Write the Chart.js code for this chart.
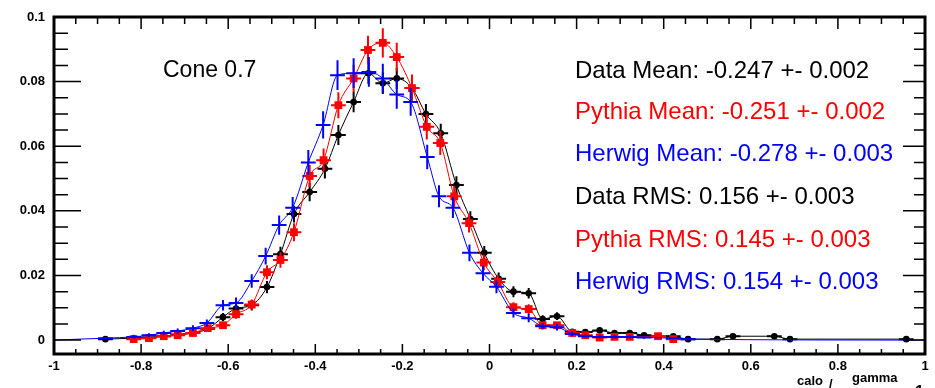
<!DOCTYPE html>
<html lang="en">
<head>
<meta charset="UTF-8">
<title>Cone 0.7</title>
<script src="https://cdn.jsdelivr.net/npm/chart.js"></script>
<style>
  html, body { margin: 0; padding: 0; background: #fff; }
</style>
</head>
<body>
<canvas id="coneChart" width="935" height="388"></canvas>
<script>
// x_calo / x_gamma - 1, cone 0.7
const binHalf = 0.017;

const dataX = [-0.882, -0.817, -0.782, -0.748, -0.716, -0.681, -0.647, -0.612, -0.582, -0.546,
  -0.511, -0.480, -0.449, -0.413, -0.378, -0.347, -0.312, -0.278, -0.245, -0.213,
  -0.178, -0.146, -0.112, -0.076, -0.044, -0.012, 0.021, 0.055, 0.090, 0.122,
  0.155, 0.190, 0.220, 0.253, 0.287, 0.322, 0.355, 0.422, 0.456, 0.523,
  0.559, 0.654, 0.690, 0.957];
const dataY = [0.0003, 0.0006, 0.0008, 0.0012, 0.0017, 0.0022, 0.0035, 0.0071, 0.0098, 0.0108,
  0.0164, 0.0266, 0.0390, 0.0458, 0.0530, 0.0635, 0.0737, 0.0826, 0.0795, 0.0810,
  0.0780, 0.0700, 0.0640, 0.0480, 0.0375, 0.0270, 0.0190, 0.0150, 0.0145, 0.0065,
  0.0074, 0.0026, 0.0025, 0.0030, 0.0022, 0.0022, 0.0015, 0.0012, 0.0003, 0.0003,
  0.0012, 0.0012, 0.0003, 0.0003];
const dataErr = [0.0004, 0.0005, 0.0005, 0.0006, 0.0007, 0.0008, 0.0010, 0.0013, 0.0015, 0.0016,
  0.0019, 0.0023, 0.0026, 0.0028, 0.0030, 0.0031, 0.0032, 0.0033, 0.0033, 0.0033,
  0.0032, 0.0031, 0.0030, 0.0027, 0.0024, 0.0021, 0.0019, 0.0017, 0.0016, 0.0012,
  0.0012, 0.0008, 0.0008, 0.0008, 0.0007, 0.0007, 0.0006, 0.0005, 0.0004, 0.0004,
  0.0005, 0.0005, 0.0004, 0.0004];

const pythiaX = [-0.817, -0.782, -0.748, -0.716, -0.681, -0.647, -0.612, -0.582, -0.546, -0.511,
  -0.480, -0.449, -0.413, -0.381, -0.347, -0.312, -0.279, -0.245, -0.213, -0.178,
  -0.144, -0.113, -0.081, -0.047, -0.013, 0.019, 0.055, 0.090, 0.122, 0.155,
  0.190, 0.220, 0.253, 0.287, 0.322, 0.387, 0.422];
const pythiaY = [0.0003, 0.0006, 0.0012, 0.0015, 0.0022, 0.0037, 0.0046, 0.0080, 0.0110, 0.0210,
  0.0248, 0.0334, 0.0508, 0.0557, 0.0727, 0.0810, 0.0898, 0.0920, 0.0876, 0.0780,
  0.0660, 0.0610, 0.0445, 0.0362, 0.0240, 0.0180, 0.0102, 0.0096, 0.0046, 0.0046,
  0.0022, 0.0015, 0.0008, 0.0010, 0.0010, 0.0012, 0.0003];
const pythiaErr = [0.0003, 0.0004, 0.0005, 0.0006, 0.0007, 0.0009, 0.0010, 0.0014, 0.0016, 0.0022,
  0.0024, 0.0028, 0.0034, 0.0036, 0.0040, 0.0042, 0.0044, 0.0045, 0.0044, 0.0042,
  0.0039, 0.0037, 0.0032, 0.0029, 0.0024, 0.0020, 0.0015, 0.0015, 0.0010, 0.0010,
  0.0007, 0.0006, 0.0005, 0.0005, 0.0005, 0.0005, 0.0003];

const herwigX = [-1, -0.882, -0.817, -0.782, -0.748, -0.716, -0.681, -0.649, -0.612, -0.582, -0.546,
  -0.514, -0.483, -0.452, -0.416, -0.382, -0.349, -0.312, -0.277, -0.245, -0.213,
  -0.181, -0.143, -0.116, -0.084, -0.046, -0.015, 0.016, 0.055, 0.090, 0.122,
  0.155, 0.190, 0.220, 0.253, 0.287, 0.322, 0.355, 0.422, 0.456, 1];
const herwigY = [0, 0.0006, 0.0010, 0.0015, 0.0022, 0.0028, 0.0037, 0.0053, 0.0108, 0.0115, 0.0183,
  0.0260, 0.0356, 0.0410, 0.0550, 0.0666, 0.0820, 0.0826, 0.0830, 0.0810, 0.0760,
  0.0737, 0.0567, 0.0445, 0.0410, 0.0270, 0.0207, 0.0165, 0.0084, 0.0068, 0.0043,
  0.0040, 0.0019, 0.0012, 0.0010, 0.0010, 0.0010, 0.0008, 0.0006, 0.0003, 0];
const herwigErr = [0, 0.0004, 0.0005, 0.0006, 0.0007, 0.0008, 0.0009, 0.0011, 0.0016, 0.0017, 0.0021,
  0.0026, 0.0030, 0.0033, 0.0038, 0.0042, 0.0046, 0.0046, 0.0046, 0.0045, 0.0044,
  0.0043, 0.0038, 0.0034, 0.0032, 0.0026, 0.0023, 0.0020, 0.0014, 0.0013, 0.0010,
  0.0010, 0.0007, 0.0005, 0.0005, 0.0005, 0.0005, 0.0004, 0.0004, 0.0003, 0];

const xTicks = [-1, -0.8, -0.6, -0.4, -0.2, 0, 0.2, 0.4, 0.6, 0.8, 1];
const xTickLabels = ['-1', '-0.8', '-0.6', '-0.4', '-0.2', '0', '0.2', '0.4', '0.6', '0.8', '1'];
const yTicks = [0, 0.02, 0.04, 0.06, 0.08, 0.1];
const yTickLabels = ['0', '0.02', '0.04', '0.06', '0.08', '0.1'];

const coneLabel = 'Cone 0.7';
const statTexts = [
  'Data Mean: -0.247 +- 0.002',
  'Pythia Mean: -0.251 +- 0.002',
  'Herwig Mean: -0.278 +- 0.003',
  'Data RMS: 0.156 +- 0.003',
  'Pythia RMS: 0.145 +- 0.003',
  'Herwig RMS: 0.154 +- 0.003'
];
const statColors = ['#000000', '#ff0000', '#0000ff', '#000000', '#ff0000', '#0000ff'];

function toPoints(xs, ys, errs) {
  return xs.map((x, i) => ({ x: x, y: ys[i], err: errs[i] }));
}

const errorBars = {
  id: 'errorBars',
  afterDatasetDraw(chart, args) {
    const ds = chart.data.datasets[args.index];
    const { ctx, scales: { x, y } } = chart;
    ctx.save();
    ctx.strokeStyle = ds.borderColor;
    ctx.lineWidth = ds.errWidth;
    ds.data.forEach(p => {
      if (!p.err) return;
      const px = x.getPixelForValue(p.x);
      const py = y.getPixelForValue(p.y);
      ctx.beginPath();
      ctx.moveTo(x.getPixelForValue(p.x - binHalf), py);
      ctx.lineTo(x.getPixelForValue(p.x + binHalf), py);
      ctx.moveTo(px, y.getPixelForValue(p.y - p.err));
      ctx.lineTo(px, y.getPixelForValue(p.y + p.err));
      ctx.stroke();
    });
    ctx.restore();
  }
};

// ROOT style frame with ticks pointing inwards, plus the texts
const frameAndText = {
  id: 'frameAndText',
  afterDraw(chart) {
    const { ctx, chartArea: a, scales: { x, y } } = chart;
    ctx.save();
    ctx.strokeStyle = '#000';
    ctx.lineWidth = 1.5;
    ctx.beginPath();
    for (let v = -1; v <= 1.0001; v += 0.05) {
      const px = x.getPixelForValue(v);
      const major = Math.abs(v * 5 - Math.round(v * 5)) < 1e-6;
      ctx.moveTo(px, a.bottom); ctx.lineTo(px, a.bottom - (major ? 10 : 5));
      ctx.moveTo(px, a.top); ctx.lineTo(px, a.top + (major ? 12 : 7));
    }
    for (let v = 0; v <= 0.1001; v += 0.005) {
      const py = y.getPixelForValue(v);
      const major = Math.abs(v * 50 - Math.round(v * 50)) < 1e-6;
      ctx.moveTo(a.left, py); ctx.lineTo(a.left + (major ? 27 : 14), py);
      ctx.moveTo(a.right, py); ctx.lineTo(a.right - (major ? 22 : 11), py);
    }
    ctx.stroke();
    ctx.lineWidth = 3;
    ctx.strokeRect(a.left, a.top, a.right - a.left, a.bottom - a.top);

    ctx.textBaseline = 'middle';
    ctx.font = '23px "Liberation Sans", Arial, sans-serif';
    ctx.fillStyle = '#000';
    ctx.fillText(coneLabel, 163, 71);
    ctx.font = '24px "Liberation Sans", Arial, sans-serif';
    const rows = [71, 112, 154, 197, 240, 282];
    statTexts.forEach((t, i) => {
      ctx.fillStyle = statColors[i];
      ctx.fillText(t, 575, rows[i]);
    });

    // axis title, mostly cut off by the bottom edge
    ctx.fillStyle = '#000';
    ctx.textBaseline = 'alphabetic';
    ctx.font = 'bold 13px "Liberation Sans", Arial, sans-serif';
    ctx.fillText('calo', 797, 385);
    ctx.fillText('/', 829, 388);
    ctx.fillText('gamma', 852, 382);
    ctx.font = 'bold 16px "Liberation Sans", Arial, sans-serif';
    ctx.fillText('1', 915, 397);
    ctx.restore();
  }
};

const tickFont = { family: '"Liberation Sans", Arial, sans-serif', weight: 'bold', size: 13 };

new Chart(document.getElementById('coneChart').getContext('2d'), {
  type: 'scatter',
  data: {
    datasets: [
      {
        label: 'Herwig',
        data: toPoints(herwigX, herwigY, herwigErr),
        showLine: true,
        cubicInterpolationMode: 'monotone',
        borderColor: '#0000ff',
        borderWidth: 1,
        pointRadius: 0,
        errWidth: 2,
        order: 1
      },
      {
        label: 'Pythia',
        data: toPoints(pythiaX, pythiaY, pythiaErr),
        showLine: true,
        cubicInterpolationMode: 'monotone',
        borderColor: '#ff0000',
        borderWidth: 1,
        pointStyle: 'rect',
        pointRadius: 5.5,
        pointBackgroundColor: '#ff0000',
        pointBorderWidth: 0,
        errWidth: 2,
        order: 2
      },
      {
        label: 'Data',
        data: toPoints(dataX, dataY, dataErr),
        showLine: true,
        cubicInterpolationMode: 'monotone',
        borderColor: '#000000',
        borderWidth: 1,
        pointStyle: 'circle',
        pointRadius: 3.3,
        pointBackgroundColor: '#000000',
        pointBorderWidth: 0,
        errWidth: 2,
        order: 3
      }
    ]
  },
  options: {
    responsive: false,
    animation: false,
    layout: { padding: { top: 17, right: 10, left: 0, bottom: 0 } },
    plugins: { legend: { display: false }, tooltip: { enabled: false } },
    scales: {
      x: {
        type: 'linear',
        min: -1,
        max: 1,
        afterBuildTicks: s => { s.ticks = xTicks.map(v => ({ value: v })); },
        afterFit: s => { s.height = 34; },
        grid: { display: false, drawTicks: false },
        border: { display: false },
        ticks: {
          callback: (v, i) => xTickLabels[i],
          font: tickFont,
          color: '#000',
          padding: 5,
          maxRotation: 0,
          autoSkip: false
        }
      },
      y: {
        type: 'linear',
        min: -0.0043,
        max: 0.1,
        afterBuildTicks: s => { s.ticks = yTicks.map(v => ({ value: v })); },
        afterFit: s => { s.width = 54; },
        grid: { display: false, drawTicks: false },
        border: { display: false },
        ticks: {
          callback: (v, i) => yTickLabels[i],
          font: tickFont,
          color: '#000',
          padding: 9,
          autoSkip: false
        }
      }
    }
  },
  plugins: [errorBars, frameAndText]
});
</script>
</body>
</html>
